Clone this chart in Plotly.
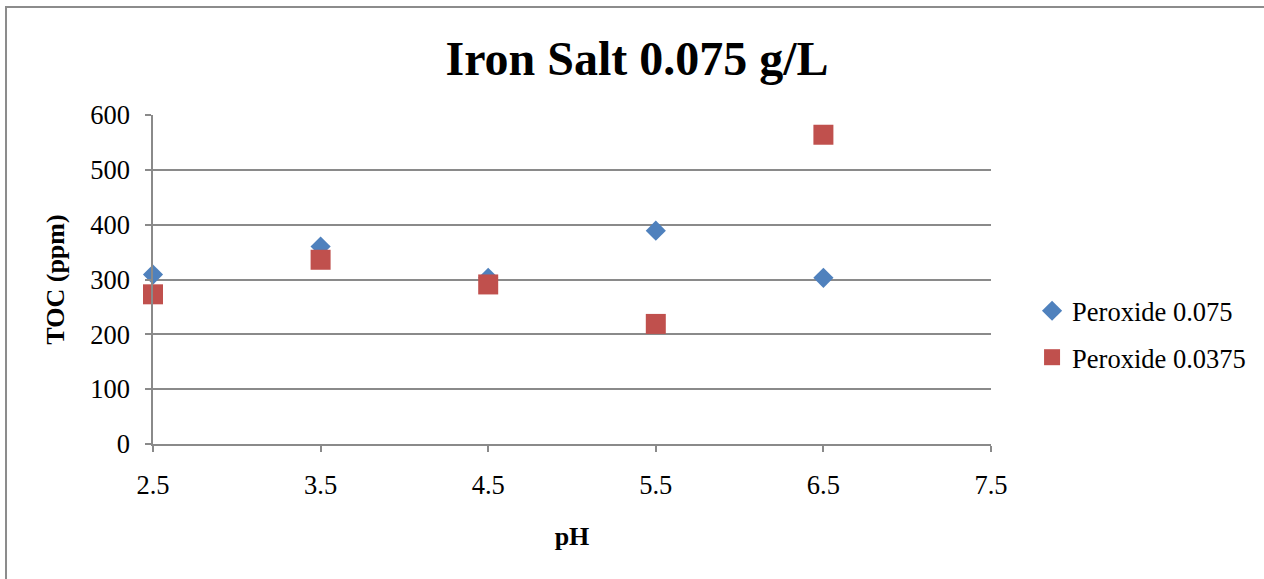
import plotly.graph_objects as go

# pH levels tested
ph = [2.5, 3.5, 4.5, 5.5, 6.5]

# TOC (ppm) for each peroxide dose
toc_peroxide_0075 = [309, 360, 303, 389, 303]
toc_peroxide_00375 = [273, 336, 291, 219, 564]

y_ticks = [0, 100, 200, 300, 400, 500, 600]
x_ticks = [2.5, 3.5, 4.5, 5.5, 6.5, 7.5]

SERIF = "Liberation Serif, Times New Roman, serif"
GRID = "#8a8a8a"

fig = go.Figure()
fig.add_trace(go.Scatter(
    x=ph, y=toc_peroxide_0075, mode="markers", name="Peroxide 0.075",
    legendgroup="a", cliponaxis=False,
    marker=dict(symbol="diamond", size=15.5, color="#4F81BD", line=dict(width=0)),
))
fig.add_trace(go.Scatter(
    x=ph, y=toc_peroxide_00375, mode="markers", name="Peroxide 0.0375",
    legendgroup="b", cliponaxis=False,
    marker=dict(symbol="square", size=20, color="#C0504D", line=dict(width=0)),
))

fig.update_layout(
    width=1264, height=579,
    margin=dict(l=153, r=273, t=115, b=135),
    paper_bgcolor="white", plot_bgcolor="white",
    font=dict(family=SERIF, size=26, color="black"),
    title=dict(
        text="<b>Iron Salt 0.075 g/L</b>",
        font=dict(family=SERIF, size=48, color="black"),
        x=0.504, xref="container", xanchor="center",
        y=0.9, yref="container", yanchor="middle",
    ),
    showlegend=True,
    legend=dict(
        xref="container", yref="container",
        x=0.8165, xanchor="left", y=0.4231, yanchor="middle",
        font=dict(family=SERIF, size=26.5, color="black"),
        tracegroupgap=9, itemsizing="trace",
        bgcolor="rgba(0,0,0,0)",
    ),
    xaxis=dict(
        range=[2.5, 7.5], tickvals=x_ticks, ticktext=[str(v) for v in x_ticks],
        showgrid=False, zeroline=False,
        showline=True, linecolor=GRID, linewidth=1.5,
        ticks="outside", ticklen=6, tickcolor=GRID, tickwidth=1.5,
        tickfont=dict(family=SERIF, size=26.5), ticklabelstandoff=10,
        title=dict(text="<b>pH</b>", font=dict(family=SERIF, size=26), standoff=28),
    ),
    yaxis=dict(
        range=[0, 600], tickvals=y_ticks,
        showgrid=True, gridcolor=GRID, gridwidth=1.5, zeroline=False,
        showline=True, linecolor=GRID, linewidth=1.5,
        ticks="outside", ticklen=6, tickcolor=GRID, tickwidth=1.5,
        tickfont=dict(family=SERIF, size=26.5), ticklabelstandoff=10,
        title=dict(text="<b>TOC (ppm)</b>", font=dict(family=SERIF, size=26), standoff=18),
    ),
    shapes=[dict(
        type="rect", xref="paper", yref="paper",
        x0=-0.1754, y0=-0.6, x1=1.6, y1=1.328,
        line=dict(color="#8c8c8c", width=2), fillcolor="rgba(0,0,0,0)", layer="below",
    )],
)

fig.write_html("out.html")
